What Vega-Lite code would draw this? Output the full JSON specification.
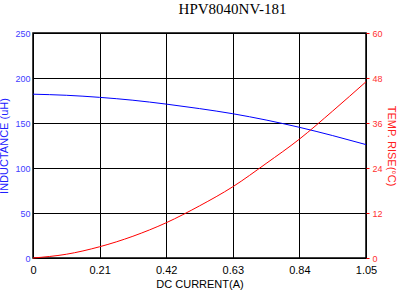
{
  "$schema": "https://vega.github.io/schema/vega-lite/v6.json",
  "width": 333,
  "height": 225,
  "autosize": {"type": "none"},
  "padding": {"left": 33, "top": 33, "right": 42, "bottom": 42},
  "background": "white",
  "title": {
    "text": "HPV8040NV-181",
    "font": "Liberation Serif",
    "fontSize": 15,
    "fontWeight": "normal",
    "color": "black",
    "anchor": "middle",
    "frame": "group",
    "dx": 33,
    "offset": 12
  },
  "config": {
    "view": {"stroke": "black", "strokeWidth": 1.5},
    "axis": {"labelFont": "Liberation Sans", "titleFont": "Liberation Sans", "titleFontWeight": "normal"}
  },
  "data": {
    "values": [
      {"current": 0, "inductance": 182, "temp": 0},
      {"current": 0.105, "inductance": 180.8, "temp": 1.0},
      {"current": 0.21, "inductance": 178.5, "temp": 3.0},
      {"current": 0.315, "inductance": 175.3, "temp": 5.8},
      {"current": 0.42, "inductance": 171, "temp": 9.4},
      {"current": 0.525, "inductance": 166, "temp": 13.9},
      {"current": 0.63, "inductance": 160.3, "temp": 19.0},
      {"current": 0.735, "inductance": 153.3, "temp": 25.2},
      {"current": 0.84, "inductance": 145.2, "temp": 31.7},
      {"current": 0.945, "inductance": 136, "temp": 39.2},
      {"current": 1.05, "inductance": 126, "temp": 47}
    ]
  },
  "encoding": {
    "x": {
      "field": "current",
      "type": "quantitative",
      "scale": {"domain": [0, 1.05], "nice": false},
      "axis": {
        "title": "DC CURRENT(A)",
        "values": [0, 0.21, 0.42, 0.63, 0.84, 1.05],
        "labelExpr": "datum.value == 0 ? '0' : format(datum.value, '.2f')",
        "labelFontSize": 11,
        "labelColor": "black",
        "labelPadding": 6,
        "labelFlush": false,
        "labelOverlap": false,
        "ticks": false,
        "domain": false,
        "grid": true,
        "gridColor": "black",
        "gridOpacity": 1,
        "gridWidth": 1,
        "titleFontSize": 11,
        "titleColor": "black",
        "titlePadding": 3
      }
    }
  },
  "layer": [
    {
      "mark": {"type": "line", "color": "#0000ff", "strokeWidth": 1, "interpolate": "monotone"},
      "encoding": {
        "y": {
          "field": "inductance",
          "type": "quantitative",
          "scale": {"domain": [0, 250], "nice": false},
          "axis": {
            "orient": "left",
            "title": "INDUCTANCE (uH)",
            "values": [0, 50, 100, 150, 200, 250],
            "labelFontSize": 9,
            "labelColor": "#4040ff",
            "labelPadding": 3,
            "labelFlush": false,
            "ticks": false,
            "domain": false,
            "grid": true,
            "gridColor": "black",
            "gridOpacity": 1,
            "gridWidth": 1,
            "titleFontSize": 11,
            "titleColor": "#2020ff",
            "titlePadding": 5
          }
        }
      }
    },
    {
      "mark": {"type": "line", "color": "#ff0000", "strokeWidth": 1, "interpolate": "monotone"},
      "encoding": {
        "y": {
          "field": "temp",
          "type": "quantitative",
          "scale": {"domain": [0, 60], "nice": false},
          "axis": {
            "orient": "right",
            "title": "TEMP. RISE(°C)",
            "values": [0, 12, 24, 36, 48, 60],
            "labelFontSize": 9,
            "labelColor": "#ff3030",
            "labelPadding": 3,
            "labelFlush": false,
            "ticks": true,
            "tickColor": "#ff0000",
            "tickSize": 3,
            "domain": false,
            "grid": false,
            "titleFontSize": 11,
            "titleColor": "#ff2020",
            "titlePadding": 3
          }
        }
      }
    }
  ],
  "resolve": {"scale": {"y": "independent"}}
}
